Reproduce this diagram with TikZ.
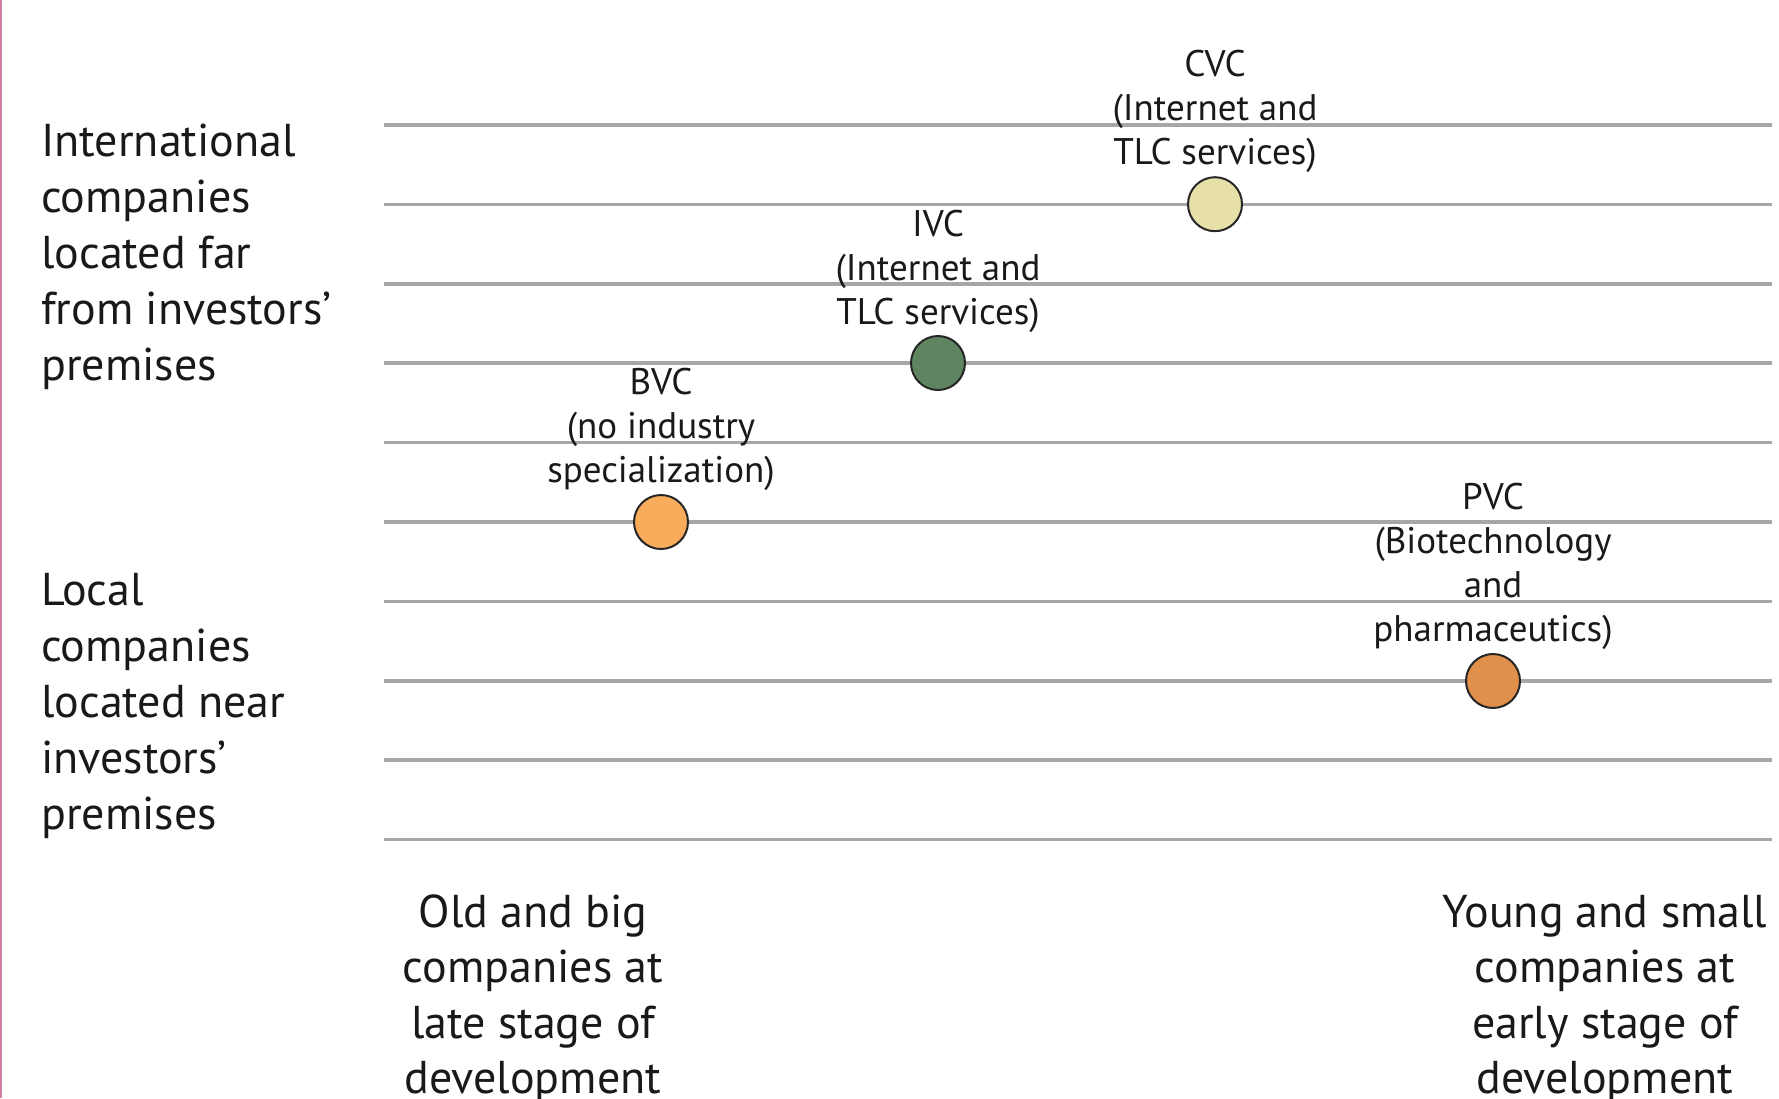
\documentclass[tikz,border=0pt]{standalone}
\usepackage{fontspec}
\setmainfont{PT Sans}
\begin{document}
\begin{tikzpicture}[x=1pt,y=-1pt,
  gridline/.style={draw=gray!85!black!60, line width=3.5pt},
  axislabel/.style={anchor=base west, inner sep=0pt, align=left,
    font=\fontsize{46}{56}\selectfont, text=black!90},
  bottomlabel/.style={anchor=base, inner sep=0pt, align=center,
    font=\fontsize{46}{55.5}\selectfont, text=black!90},
  vclabel/.style={anchor=base, inner sep=0pt, align=center,
    font=\fontsize{37}{44}\selectfont, text=black!90},
  dot/.style={circle, draw=black!85, line width=2pt, minimum size=54pt, inner sep=0pt}]
\definecolor{cvcfill}{HTML}{E6E0A8}
\definecolor{ivcfill}{HTML}{5E8560}
\definecolor{bvcfill}{HTML}{F9AD5C}
\definecolor{pvcfill}{HTML}{E0904A}
\definecolor{edgepink}{HTML}{D07EA2}
\useasboundingbox (0,0) rectangle (1779,1098);
\begin{scope}
\clip (0,0) rectangle (1779,1098);
% left margin rule
\draw[edgepink, line width=2.5pt] (1,0) -- (1,1098);
% horizontal grid
\foreach \k in {0,...,9} {
  \coordinate (gl\k) at (384,{125+79.4*\k});
  \coordinate (gr\k) at (1772,{125+79.4*\k});
  \draw[gridline] (gl\k) -- (gr\k);
}
% vertical axis labels (anchored at the baseline of their last line)
\node[axislabel] (intl) at (41,380) {International\\companies\\located far\\from investors’\\premises};
\node[axislabel] (local) at (41,829) {Local\\companies\\located near\\investors’\\premises};
% horizontal axis labels
\node[bottomlabel] (old) at (533,1093.5) {Old and big\\companies at\\late stage of\\development};
\node[bottomlabel] (young) at (1605,1093.5) {Young and small\\companies at\\early stage of\\development};
% venture capital types
\node[dot, fill=cvcfill] (cvc) at (1215,204.2) {};
\node[dot, fill=ivcfill] (ivc) at (938,363) {};
\node[dot, fill=bvcfill] (bvc) at (661,522) {};
\node[dot, fill=pvcfill] (pvc) at (1493,681) {};
\node[vclabel] (cvclab) at (1215,164) {CVC\\(Internet and\\TLC services)};
\node[vclabel] (ivclab) at (938,324) {IVC\\(Internet and\\TLC services)};
\node[vclabel] (bvclab) at (661,482) {BVC\\(no industry\\specialization)};
\node[vclabel] (pvclab) at (1493,641) {PVC\\(Biotechnology\\and\\pharmaceutics)};
\end{scope}
\end{tikzpicture}
\end{document}
